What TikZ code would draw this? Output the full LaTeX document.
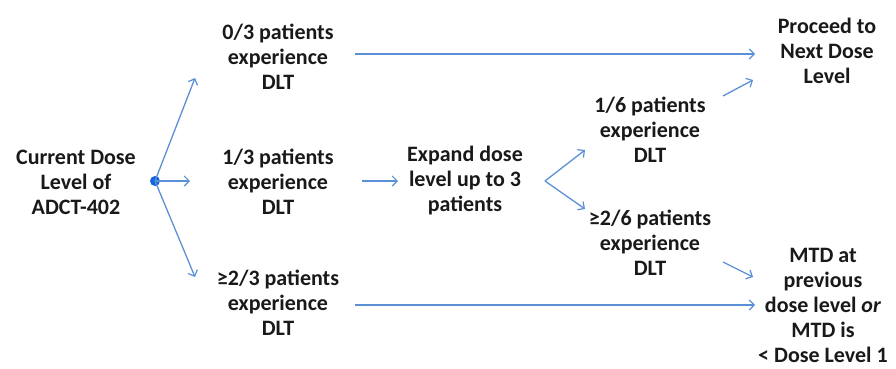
\documentclass[tikz,border=0pt]{standalone}
\usepackage{fontspec}
\setmainfont{Carlito}
\usetikzlibrary{arrows.meta,calc}
\definecolor{arrblue}{HTML}{5B8FD6}
\definecolor{dotblue}{HTML}{1565E0}
\begin{document}
\begin{tikzpicture}[x=1pt,y=-1pt,
  lbl/.style={align=center,inner sep=0pt,font=\bfseries\fontsize{22}{25}\selectfont,text=black!90},
  arr/.style={draw=arrblue,line width=1.3pt,-{Straight Barb[length=5pt,width=10pt,line width=1.2pt]}},
  dotnode/.style={circle,fill=dotblue,inner sep=0pt,minimum size=10pt}]
\useasboundingbox (0,0) rectangle (896,368);
\node[lbl] (cur) at (76,182) {Current Dose\\Level of\\ADCT-402};
\node[dotnode] (dot) at (155,181) {};
\node[lbl] (n03) at (278,57) {0/3 patients\\experience\\DLT};
\node[lbl] (n13) at (278,182) {1/3 patients\\experience\\DLT};
\node[lbl] (n23) at (278,303) {≥2/3 patients\\experience\\DLT};
\node[lbl] (exp) at (465,181) {Expand dose\\level up to 3\\patients};
\node[lbl] (n16) at (650,130) {1/6 patients\\experience\\DLT};
\node[lbl] (n26) at (650,243) {≥2/6 patients\\experience\\DLT};
\node[lbl] (proc) at (827,51) {Proceed to\\Next Dose\\Level};
\node[lbl] (mtd) at (823,305) {MTD at\\previous\\dose level \textit{or}\\MTD is\\< Dose Level 1};
\coordinate (fork) at ($(exp.center)+(80,0)$);
\draw[arr] (dot.center) -- ($(n03.center)+(-83,21)$);
\draw[arr] (dot.center) -- ($(n13.center)+(-88,-1)$);
\draw[arr] (dot.center) -- ($(n23.center)+(-83,-26)$);
\draw[arr] ($(n03.center)+(77,-3)$) -- ($(proc.center)+(-72,3)$);
\draw[arr] ($(n13.center)+(84,-1)$) -- ($(exp.center)+(-67,0)$);
\draw[arr] (fork) -- ($(n16.center)+(-65,20)$);
\draw[arr] (fork) -- ($(n26.center)+(-65,-34)$);
\draw[arr] ($(n16.center)+(73,-34)$) -- ($(proc.center)+(-74,29)$);
\draw[arr] ($(n26.center)+(73,19)$) -- ($(mtd.center)+(-70,-28)$);
\draw[arr] ($(n23.center)+(77,2)$) -- ($(mtd.center)+(-68,0)$);
\end{tikzpicture}
\end{document}
